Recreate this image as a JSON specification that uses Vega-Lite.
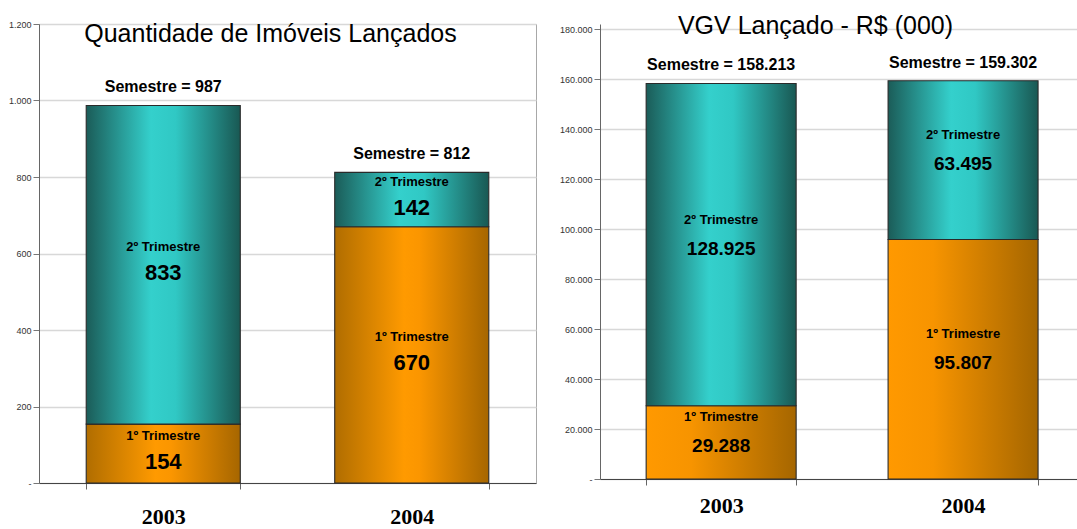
{
  "$schema": "https://vega.github.io/schema/vega-lite/v6.json",
  "background": "white",
  "padding": {"left": 0, "top": 14, "right": 0, "bottom": 0},
  "spacing": 18,
  "datasets": {
    "imoveis": [
      {"ano": "2003", "tri": "1º Trimestre", "valor": 154},
      {"ano": "2003", "tri": "2º Trimestre", "valor": 833},
      {"ano": "2004", "tri": "1º Trimestre", "valor": 670},
      {"ano": "2004", "tri": "2º Trimestre", "valor": 142}
    ],
    "vgv": [
      {"ano": "2003", "tri": "1º Trimestre", "valor": 29288},
      {"ano": "2003", "tri": "2º Trimestre", "valor": 128925},
      {"ano": "2004", "tri": "1º Trimestre", "valor": 95807},
      {"ano": "2004", "tri": "2º Trimestre", "valor": 63495}
    ]
  },
  "hconcat": [
    {
      "width": 497,
      "height": 459,
      "view": {"stroke": "#a8a8a8", "strokeWidth": 1},
      "title": {"text": "Quantidade de Imóveis Lançados", "font": "Liberation Sans", "fontSize": 25, "fontWeight": "normal", "color": "#000", "anchor": "middle", "frame": "group", "baseline": "alphabetic", "offset": -47, "dx": -17},
      "data": {"name": "imoveis"},
      "transform": [
        {"stack": "valor", "groupby": ["ano"], "sort": [{"field": "tri", "order": "ascending"}], "as": ["y0", "y1"]},
        {"calculate": "(datum.y0 + datum.y1) / 2", "as": "mid"},
        {"calculate": "replace(format(datum.valor, ','), ',', '.')", "as": "rotulo"},
        {"joinaggregate": [{"op": "sum", "field": "valor", "as": "total"}], "groupby": ["ano"]},
        {"calculate": "'Semestre = ' + replace(format(datum.total, ','), ',', '.')", "as": "semestre"}
      ],
      "encoding": {
        "x": {"field": "ano", "type": "nominal", "title": null,
          "scale": {"type": "band", "paddingInner": 0.38, "paddingOuter": 0.19},
          "axis": {"labelAngle": 0, "labelFont": "Liberation Serif", "labelFontSize": 22, "labelFontWeight": "bold", "labelColor": "#000", "labelPadding": 17, "tickBand": "extent", "tickSize": 6, "tickColor": "#666", "domainColor": "#444", "domainWidth": 1.2, "grid": false}}
      },
      "layer": [
        {
          "mark": {"type": "bar", "stroke": "#2a2a2a", "strokeWidth": 1.1},
          "encoding": {
            "y": {"field": "y0", "type": "quantitative", "title": null,
              "scale": {"domain": [0, 1200], "nice": false, "zero": true},
              "axis": {"values": [0, 200, 400, 600, 800, 1000, 1200], "labelExpr": "datum.value === 0 ? '-' : replace(format(datum.value, ','), ',', '.')", "labelFont": "Liberation Sans", "labelFontSize": 9, "labelColor": "#333", "tickSize": 6, "tickColor": "#777", "labelPadding": 2, "domainColor": "#666", "gridColor": "#d8d8d8", "gridWidth": 1.3, "minExtent": 38}},
            "y2": {"field": "y1"},
            "fill": {
              "condition": {"test": "datum.tri === '1º Trimestre'", "value": {"gradient": "linear", "x1": 0, "y1": 0, "x2": 1, "y2": 0, "stops": [{"offset": 0, "color": "#b06d00"}, {"offset": 0.45, "color": "#ff9a00"}, {"offset": 0.55, "color": "#fb9600"}, {"offset": 1, "color": "#a66600"}]}},
              "value": {"gradient": "linear", "x1": 0, "y1": 0, "x2": 1, "y2": 0, "stops": [{"offset": 0, "color": "#1b5c58"}, {"offset": 0.42, "color": "#34d0cc"}, {"offset": 0.58, "color": "#30c8c4"}, {"offset": 1, "color": "#195853"}]}
            }
          }
        },
        {
          "mark": {"type": "text", "font": "Liberation Sans", "fontSize": 13, "fontWeight": "bold", "color": "#000", "baseline": "middle"},
          "encoding": {
            "y": {"field": "mid", "type": "quantitative"},
            "yOffset": {"condition": {"test": "datum.valor < 150", "value": -3}, "value": -18},
            "text": {"field": "tri"}
          }
        },
        {
          "mark": {"type": "text", "font": "Liberation Sans", "fontSize": 22, "fontWeight": "bold", "color": "#000", "baseline": "middle"},
          "encoding": {
            "y": {"field": "mid", "type": "quantitative"},
            "yOffset": {"condition": {"test": "datum.valor < 150", "value": 18}, "value": 8},
            "text": {"field": "rotulo"}
          }
        },
        {
          "transform": [{"filter": "datum.tri === '2º Trimestre'"}],
          "mark": {"type": "text", "font": "Liberation Sans", "fontSize": 16, "fontWeight": "bold", "color": "#000", "baseline": "bottom", "dy": -10},
          "encoding": {
            "y": {"field": "total", "type": "quantitative"},
            "text": {"field": "semestre"}
          }
        }
      ]
    },
    {
      "width": 479,
      "height": 455,
      "title": {"text": "VGV Lançado - R$ (000)", "font": "Liberation Sans", "fontSize": 25, "fontWeight": "normal", "color": "#000", "anchor": "middle", "frame": "group", "baseline": "alphabetic", "offset": -35, "dx": -24},
      "data": {"name": "vgv"},
      "transform": [
        {"stack": "valor", "groupby": ["ano"], "sort": [{"field": "tri", "order": "ascending"}], "as": ["y0", "y1"]},
        {"calculate": "(datum.y0 + datum.y1) / 2", "as": "mid"},
        {"calculate": "replace(format(datum.valor, ','), ',', '.')", "as": "rotulo"},
        {"joinaggregate": [{"op": "sum", "field": "valor", "as": "total"}], "groupby": ["ano"]},
        {"calculate": "'Semestre = ' + replace(format(datum.total, ','), ',', '.')", "as": "semestre"}
      ],
      "encoding": {
        "x": {"field": "ano", "type": "nominal", "title": null,
          "scale": {"type": "band", "paddingInner": 0.38, "paddingOuter": 0.18, "align": 0.53},
          "axis": {"labelAngle": 0, "labelFont": "Liberation Serif", "labelFontSize": 22, "labelFontWeight": "bold", "labelColor": "#000", "labelPadding": 10, "tickBand": "extent", "tickSize": 6, "tickColor": "#666", "domainColor": "#444", "domainWidth": 1.2, "grid": false}}
      },
      "layer": [
        {
          "mark": {"type": "bar", "stroke": "#2a2a2a", "strokeWidth": 1.1},
          "encoding": {
            "y": {"field": "y0", "type": "quantitative", "title": null,
              "scale": {"domain": [0, 182000], "nice": false, "zero": true},
              "axis": {"values": [0, 20000, 40000, 60000, 80000, 100000, 120000, 140000, 160000, 180000], "labelExpr": "datum.value === 0 ? '-' : replace(format(datum.value, ','), ',', '.')", "labelFont": "Liberation Sans", "labelFontSize": 9, "labelColor": "#333", "tickSize": 6, "tickColor": "#777", "labelPadding": 2, "domainColor": "#666", "gridColor": "#d8d8d8", "gridWidth": 1.3, "minExtent": 45}},
            "y2": {"field": "y1"},
            "fill": {
              "condition": {"test": "datum.tri === '1º Trimestre'", "value": {"gradient": "linear", "x1": 0, "y1": 0, "x2": 1, "y2": 0, "stops": [{"offset": 0, "color": "#ff9900"}, {"offset": 0.3, "color": "#f79400"}, {"offset": 1, "color": "#a56600"}]}},
              "value": {"gradient": "linear", "x1": 0, "y1": 0, "x2": 1, "y2": 0, "stops": [{"offset": 0, "color": "#1b5c58"}, {"offset": 0.42, "color": "#34d0cc"}, {"offset": 0.58, "color": "#30c8c4"}, {"offset": 1, "color": "#195853"}]}
            }
          }
        },
        {
          "mark": {"type": "text", "font": "Liberation Sans", "fontSize": 13, "fontWeight": "bold", "color": "#000", "baseline": "middle"},
          "encoding": {
            "y": {"field": "mid", "type": "quantitative"},
            "yOffset": {"value": -25},
            "text": {"field": "tri"}
          }
        },
        {
          "mark": {"type": "text", "font": "Liberation Sans", "fontSize": 19, "fontWeight": "bold", "color": "#000", "baseline": "middle"},
          "encoding": {
            "y": {"field": "mid", "type": "quantitative"},
            "yOffset": {"value": 4},
            "text": {"field": "rotulo"}
          }
        },
        {
          "transform": [{"filter": "datum.tri === '2º Trimestre'"}],
          "mark": {"type": "text", "font": "Liberation Sans", "fontSize": 16, "fontWeight": "bold", "color": "#000", "baseline": "bottom", "dy": -10},
          "encoding": {
            "y": {"field": "total", "type": "quantitative"},
            "text": {"field": "semestre"}
          }
        }
      ]
    }
  ],
  "config": {
    "view": {"stroke": null},
    "axis": {"labelOverlap": false}
  }
}
